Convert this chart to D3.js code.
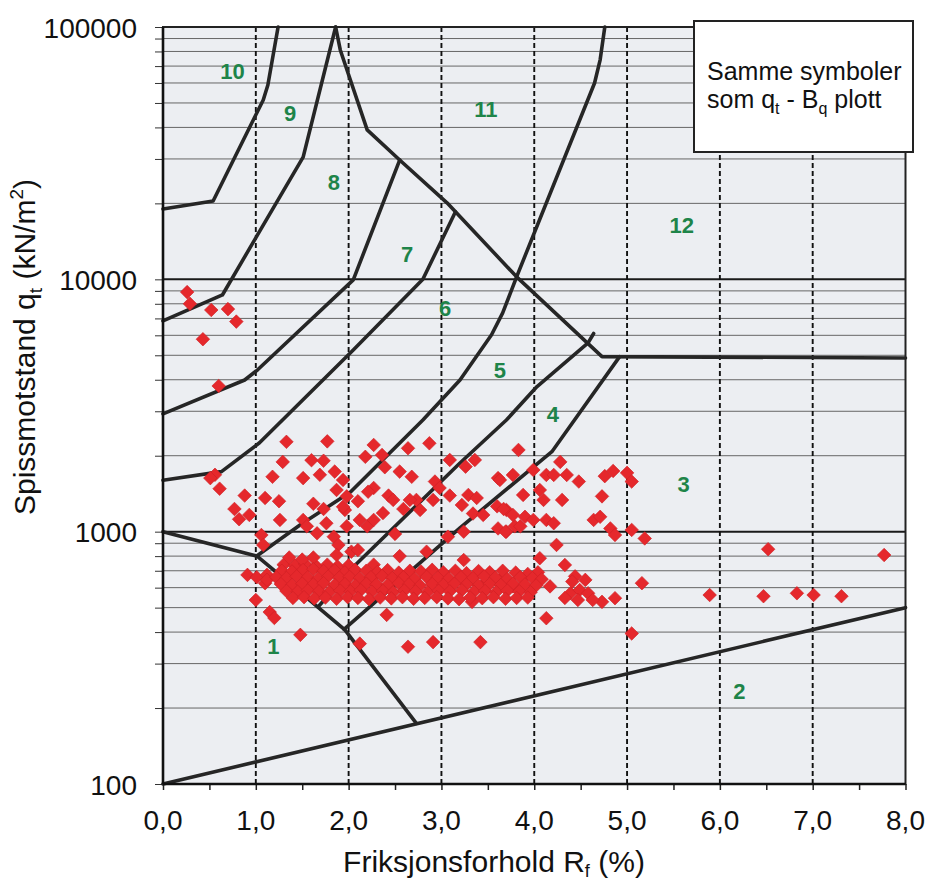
<!DOCTYPE html>
<html><head><meta charset="utf-8">
<script src="https://cdn.jsdelivr.net/npm/d3@7"></script>
<style>body{margin:0;background:#fff}svg{display:block}</style>
</head><body>
<svg id="chart" width="929" height="881"></svg>
<script>
// ---------- data ----------
const xTickValues = [0, 1, 2, 3, 4, 5, 6, 7, 8];
const yTickValues = [100, 1000, 10000, 100000];
const xTitle = "Friksjonsforhold R";
const yTitle = "Spissmotstand q";
const legendLines = ["Samme symboler", "som q", "- B", "plott"];

// zone boundary lines [Rf %, qt kN/m2]
const lineZone2 = [[0, 100], [8, 500]];
const lineZone1 = [[0, 1000], [1.01, 801], [1.23, 686], [1.96, 408], [2.73, 174]];
const lineZone34 = [[1.95, 410], [3.20, 1035], [4.19, 2075], [4.92, 4940]];
const lineZone45 = [[1.67, 503], [2.05, 724], [3.20, 1871], [3.70, 2770], [4.03, 3760], [4.58, 5600], [4.64, 6100]];
const lineZone56 = [[1.01, 801], [1.48, 1065], [2.02, 1436], [2.80, 2770], [3.20, 3990], [3.54, 6030], [3.66, 7360], [3.81, 10230], [4.65, 60000], [4.71, 74100], [4.76, 100000]];
const lineZone67 = [[0, 1600], [0.63, 1730], [1.04, 2250], [2.05, 5250], [2.80, 10000], [3.15, 18500]];
const lineZone78 = [[0, 2930], [0.88, 3990], [1.02, 4380], [2.05, 9950], [2.55, 29700]];
const lineZone89 = [[0, 6840], [0.64, 8670], [1.05, 15700], [1.51, 30500], [1.86, 100000]];
const lineZone910 = [[0, 19000], [0.54, 20450], [1.08, 51400], [1.13, 58900], [1.24, 100000]];
const lineZone11 = [[1.86, 100000], [1.91, 81100], [2.20, 39100], [2.55, 29700], [3.06, 20100], [3.81, 10230], [4.73, 4940], [8.0, 4880]];

const zoneLabels = [
  ["10", 0.75, 66800], ["9", 1.37, 45400], ["8", 1.84, 24200], ["7", 2.63, 12600],
  ["6", 3.04, 7630], ["11", 3.48, 46900], ["12", 5.59, 16400], ["5", 3.63, 4370],
  ["4", 4.20, 2900], ["3", 5.61, 1532], ["1", 1.19, 350], ["2", 6.21, 232]
];

// measured points [Rf %, qt kN/m2]
const points = [
  [0.26,8900],[0.29,8000],[0.52,7560],[0.70,7620],[0.79,6800],[0.43,5790],[0.60,3780],
  [1.33,2270],[1.77,2280],[1.29,1890],[1.60,1920],[1.73,1910],[1.18,1650],[1.51,1630],[1.69,1680],[1.85,1730],
  [0.56,1680],[0.61,1480],[0.51,1630],[0.88,1390],[1.10,1360],[1.25,1320],[0.77,1230],[0.93,1165],[0.82,1120],
  [1.26,1113],[1.51,1113],[1.62,1290],[1.73,1230],[1.87,1463],[1.98,1380],[1.96,1219],[1.55,1050],[1.66,985],
  [1.76,1080],[1.84,955],[1.89,886],[1.98,1050],[1.06,970],[1.08,886],[1.87,808],[2.03,833],[0.91,674],
  [1.01,660],[1.12,674],[1.10,625],[1.00,536],[1.15,480],[1.20,455],[1.48,390],[1.12,644],
  [2.27,2206],[2.18,1980],[2.36,2014],[2.39,1800],[2.64,2140],[2.87,2240],[2.55,1730],[2.68,1650],[2.27,1490],
  [2.21,1440],[2.10,1320],[2.43,1390],[2.48,1336],[2.59,1230],[2.73,1336],[2.77,1219],[2.93,1580],[2.98,1490],
  [2.91,1336],[3.09,1924],[3.36,1924],[3.09,1390],[3.22,1276],[3.29,1398],[3.38,1360],[3.34,1180],[3.45,1165],
  [3.61,1630],[3.77,1678],[3.60,1260],[3.70,1219],[3.61,1030],[3.70,1000],[3.79,1050],[1.94,1603],[1.94,1255],
  [2.12,1113],[2.20,1050],[2.27,1113],[2.50,980],[3.07,955],[3.24,1000],[2.10,846],[2.55,800],[2.84,833],
  [3.24,772],[2.27,740],[2.41,468],[2.12,360],[2.64,350],[2.91,365],[3.42,365],[3.47,627],[3.63,644],[3.77,607],
  [2.37,1185],[2.66,1336],[3.26,1810],[3.33,527],
  [3.83,2108],[4.28,1890],[3.99,1756],[4.13,1678],[4.21,1678],[4.35,1678],[4.48,1580],[4.76,1660],[4.85,1740],
  [5.00,1710],[5.05,1580],[3.63,1603],[3.88,1398],[4.06,1463],[4.10,1336],[4.30,1336],[4.73,1380],[3.67,1230],
  [3.77,1165],[3.90,1145],[3.99,1113],[4.13,1113],[4.21,1080],[3.85,1050],[3.69,1000],[4.64,1113],[4.71,1145],
  [4.82,1030],[4.87,970],[5.05,1016],[5.19,940],[4.24,886],[4.06,785],[4.33,738],[4.04,690],[5.16,625],[4.17,607],
  [4.44,665],[4.39,570],[4.49,587],[4.58,570],[4.73,527],[4.87,545],[4.13,454],[5.05,395],
  [4.41,634],[4.55,644],[4.47,536],[4.63,536],[4.33,546],
  [6.52,852],[7.77,808],[5.89,561],[6.47,555],[6.83,570],[7.01,561],[7.31,555],
  [1.30,740],[1.42,735],[1.53,745],[1.65,730],[1.77,740],[1.88,728],[2.00,735],[1.36,790],[1.50,775],[1.62,790],
  [1.28,700],[1.39,695],[1.51,705],[1.62,710],[1.73,698],[1.85,702],[1.96,690],[2.07,706],[2.19,700],[2.31,692],
  [2.42,704],[2.54,688],[2.66,700],[2.78,695],[2.90,706],[3.02,690],[3.15,700],[3.27,685],[3.40,698],[3.52,690],
  [3.66,700],[3.80,688],[3.93,680],
  [1.22,660],[1.33,655],[1.44,665],[1.56,660],[1.67,652],[1.78,664],[1.90,658],[2.01,662],[2.12,655],[2.24,660],
  [2.36,668],[2.47,655],[2.59,660],[2.71,650],[2.84,662],[2.96,658],[3.08,652],[3.21,660],[3.34,655],[3.46,665],
  [3.58,658],[3.71,650],[3.85,660],[3.98,655],[4.08,648],
  [1.27,620],[1.39,615],[1.50,622],[1.62,618],[1.73,625],[1.85,615],[1.96,620],[2.07,612],[2.19,622],[2.30,618],
  [2.42,615],[2.54,625],[2.65,618],[2.77,612],[2.90,620],[3.02,615],[3.14,622],[3.27,618],[3.40,612],[3.52,620],
  [3.64,615],[3.77,622],[3.90,618],[4.02,612],
  [1.33,582],[1.45,578],[1.56,585],[1.68,580],[1.79,576],[1.91,584],[2.02,580],[2.13,586],[2.25,578],[2.37,582],
  [2.48,576],[2.60,584],[2.72,580],[2.85,575],[2.97,583],[3.09,580],[3.22,586],[3.35,578],[3.47,582],[3.59,576],
  [3.71,584],[3.84,580],[3.96,575],
  [1.40,546],[1.52,550],[1.63,544],[1.75,548],[1.87,542],[1.99,550],[2.10,546],[2.22,540],[2.34,548],[2.46,544],
  [2.58,550],[2.70,542],[2.82,546],[2.95,550],[3.07,544],[3.19,540],[3.31,548],[3.44,545],[3.56,550],[3.69,542],
  [3.81,546],[3.93,548]
];

// ---------- chart ----------
const FONT = "'Liberation Sans', Arial, Helvetica, sans-serif";
const svg = d3.select("#chart");
const plot = {left: 163, right: 905.5, top: 27, bottom: 784};
const x = d3.scaleLinear().domain([0, 8]).range([plot.left, plot.right]);
const y = d3.scaleLog().domain([100, 100000]).range([plot.bottom, plot.top]);

svg.append("rect").attr("width", 929).attr("height", 881).attr("fill", "#fff");
svg.append("rect").attr("x", plot.left).attr("y", plot.top)
  .attr("width", plot.right - plot.left).attr("height", plot.bottom - plot.top)
  .attr("fill", "#eceef2");

// minor / major grid values
const minorY = [];
for (let e = 100; e < 100000; e *= 10) for (let k = 2; k <= 9; k++) minorY.push(k * e);
const gridG = svg.append("g");
gridG.selectAll(".hmin").data(minorY).join("line")
  .attr("x1", plot.left).attr("x2", plot.right)
  .attr("y1", d => y(d)).attr("y2", d => y(d))
  .attr("stroke", "#666").attr("stroke-width", 1);
gridG.selectAll(".hmaj").data([1000, 10000]).join("line")
  .attr("x1", plot.left).attr("x2", plot.right)
  .attr("y1", d => y(d)).attr("y2", d => y(d))
  .attr("stroke", "#1a1a1a").attr("stroke-width", 2);
gridG.selectAll(".vdash").data([1, 2, 3, 4, 5, 6, 7]).join("line")
  .attr("x1", d => x(d)).attr("x2", d => x(d))
  .attr("y1", plot.top).attr("y2", plot.bottom)
  .attr("stroke", "#111").attr("stroke-width", 1.9).attr("stroke-dasharray", "5,3");

// axes ticks
const yAxis = d3.axisLeft(y).tickValues(minorY.concat(yTickValues)).tickSize(8).tickFormat("");
const gy = svg.append("g").attr("transform", `translate(${plot.left},0)`).call(yAxis);
gy.select(".domain").remove();
gy.selectAll(".tick line").attr("stroke", "#333").attr("stroke-width", 1);
const xMinor = d3.range(0, 8.01, 0.5);
const xAxis = d3.axisBottom(x).tickValues(xMinor).tickSize(6).tickFormat("");
const gx = svg.append("g").attr("transform", `translate(0,${plot.bottom})`).call(xAxis);
gx.select(".domain").remove();
gx.selectAll(".tick line").attr("stroke", "#222").attr("stroke-width", 1.5);

// zone lines
const lineGen = d3.line().x(d => x(d[0])).y(d => y(d[1]));
const zoneLines = [lineZone2, lineZone1, lineZone34, lineZone45, lineZone56, lineZone67, lineZone78, lineZone89, lineZone910, lineZone11];
svg.append("g").selectAll("path").data(zoneLines).join("path")
  .attr("d", lineGen).attr("fill", "none")
  .attr("stroke", "#262626").attr("stroke-width", 3.6)
  .attr("stroke-linejoin", "round").attr("stroke-linecap", "round");

// frame
svg.append("rect").attr("x", plot.left).attr("y", plot.top)
  .attr("width", plot.right - plot.left).attr("height", plot.bottom - plot.top)
  .attr("fill", "none").attr("stroke", "#222").attr("stroke-width", 2);
svg.append("line").attr("x1", plot.left).attr("x2", plot.left).attr("y1", plot.top).attr("y2", plot.bottom)
  .attr("stroke", "#111").attr("stroke-width", 2.6);
svg.append("line").attr("x1", plot.left).attr("x2", plot.right).attr("y1", plot.bottom).attr("y2", plot.bottom)
  .attr("stroke", "#111").attr("stroke-width", 2.6);

// points
const sym = d3.symbol(d3.symbolSquare, 92);
svg.append("g").selectAll("path").data(points).join("path")
  .attr("d", sym)
  .attr("transform", d => `translate(${x(d[0])},${y(d[1])}) rotate(45)`)
  .attr("fill", "#e5282c").attr("stroke", "#d01f24").attr("stroke-width", 0.6);

// zone labels
svg.append("g").selectAll("text").data(zoneLabels).join("text")
  .attr("x", d => x(d[1])).attr("y", d => y(d[2]))
  .attr("text-anchor", "middle").attr("dominant-baseline", "central")
  .attr("font-family", FONT).attr("font-weight", "bold").attr("font-size", 22)
  .attr("fill", "#1e8449").text(d => d[0]);

// tick labels
svg.append("g").selectAll("text").data(yTickValues).join("text")
  .attr("x", 137).attr("y", d => y(d) + 10.5)
  .attr("text-anchor", "end").attr("font-family", FONT).attr("font-size", 28).attr("fill", "#111")
  .text(d => String(d));
svg.append("g").selectAll("text").data(xTickValues).join("text")
  .attr("x", d => x(d)).attr("y", 830)
  .attr("text-anchor", "middle").attr("font-family", FONT).attr("font-size", 28).attr("fill", "#111")
  .text(d => d.toFixed(1).replace(".", ","));

// axis titles
const xt = svg.append("text").attr("x", 494).attr("y", 872).attr("text-anchor", "middle")
  .attr("font-family", FONT).attr("font-size", 30).attr("fill", "#111");
xt.append("tspan").text(xTitle);
xt.append("tspan").attr("font-size", 18).attr("dy", 5).text("f");
xt.append("tspan").attr("dy", -5).text(" (%)");

const yt = svg.append("text").attr("transform", "translate(35,347) rotate(-90)").attr("text-anchor", "middle")
  .attr("font-family", FONT).attr("font-size", 30).attr("fill", "#111");
yt.append("tspan").text(yTitle);
yt.append("tspan").attr("font-size", 19).attr("dy", 7).text("t");
yt.append("tspan").attr("dy", -7).text(" (kN/m");
yt.append("tspan").attr("font-size", 19).attr("dy", -12).text("2");
yt.append("tspan").attr("dy", 12).text(")");

// legend box
svg.append("rect").attr("x", 694).attr("y", 21).attr("width", 219).attr("height", 131)
  .attr("fill", "#fff").attr("stroke", "#222").attr("stroke-width", 2);
svg.append("text").attr("x", 707).attr("y", 80).attr("font-family", FONT).attr("font-size", 25)
  .attr("fill", "#111").text(legendLines[0]);
const l2 = svg.append("text").attr("x", 707).attr("y", 108).attr("font-family", FONT).attr("font-size", 25).attr("fill", "#111");
l2.append("tspan").text(legendLines[1]);
l2.append("tspan").attr("font-size", 16).attr("dy", 6).text("t");
l2.append("tspan").attr("dy", -6).text(" " + legendLines[2]);
l2.append("tspan").attr("font-size", 16).attr("dy", 6).text("q");
l2.append("tspan").attr("dy", -6).text(" " + legendLines[3]);
</script>
</body></html>
